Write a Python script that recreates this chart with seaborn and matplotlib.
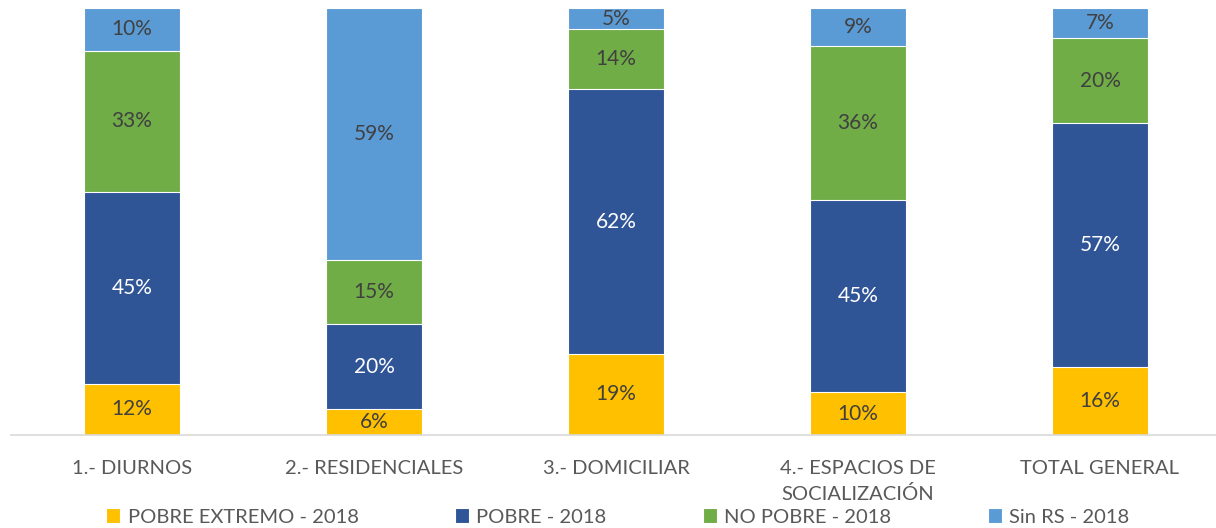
import numpy as np
import pandas as pd
import matplotlib.pyplot as plt
import seaborn as sns

# Datos del gráfico (porcentajes)
categorias = ['1.- DIURNOS', '2.- RESIDENCIALES', '3.- DOMICILIAR',
              '4.- ESPACIOS DE\nSOCIALIZACIÓN', 'TOTAL GENERAL']
series = ['POBRE EXTREMO - 2018', 'POBRE - 2018', 'NO POBRE - 2018', 'Sin RS - 2018']
pobre_extremo = [12, 6, 19, 10, 16]
pobre = [45, 20, 62, 45, 57]
no_pobre = [33, 15, 14, 36, 20]
sin_rs = [10, 59, 5, 9, 7]
colores = ['#FFC000', '#2F5597', '#70AD47', '#5B9BD5']
color_texto = ['#404040', 'white', '#404040', '#404040']

valores = np.array([pobre_extremo, pobre, no_pobre, sin_rs], dtype=float)
acumulado = valores.cumsum(axis=0)

sns.set_style('white')
plt.rcParams['font.family'] = ['Lato', 'DejaVu Sans']

fig = plt.figure(figsize=(12.16, 5.28), dpi=100)
ax = fig.add_axes([11 / 1216, 93 / 528, 1210 / 1216, 427 / 528])

# Barras apiladas: se dibuja primero el acumulado mayor
for i in range(len(series) - 1, -1, -1):
    df = pd.DataFrame({'cat': categorias, 'val': acumulado[i]})
    sns.barplot(data=df, x='cat', y='val', color=colores[i], width=0.4,
                edgecolor='white', linewidth=0.8, saturation=1, ax=ax,
                label=series[i])

# Etiquetas de datos
for i in range(len(series)):
    for j in range(len(categorias)):
        y = acumulado[i][j] - valores[i][j] / 2
        ax.text(j, y, f'{int(valores[i][j])}%', ha='center', va='center',
                fontsize=15, color=color_texto[i])

ax.set_xlim(-0.5, 4.5)
ax.set_ylim(0, 100)
ax.set_xlabel('')
ax.set_ylabel('')
ax.set_yticks([])
sns.despine(ax=ax, left=True, top=True, right=True)
ax.spines['bottom'].set_color('#D9D9D9')
ax.spines['bottom'].set_linewidth(1.2)
ax.tick_params(axis='x', length=0, labelsize=14.5, labelcolor='#595959', pad=18)
for lbl in ax.get_xticklabels():
    lbl.set_linespacing(1.5)
    lbl.set_va('top')

handles, labels = ax.get_legend_handles_labels()
orden = [labels.index(s) for s in series]
ax.legend([handles[k] for k in orden], series, ncol=4, frameon=False,
          loc='center', bbox_to_anchor=(618 / 1216, 11 / 528),
          bbox_transform=fig.transFigure, fontsize=14.5, labelcolor='#595959',
          handlelength=0.7, handleheight=0.7, handletextpad=0.35,
          columnspacing=4.8)

fig.savefig('out.png', dpi=100)
